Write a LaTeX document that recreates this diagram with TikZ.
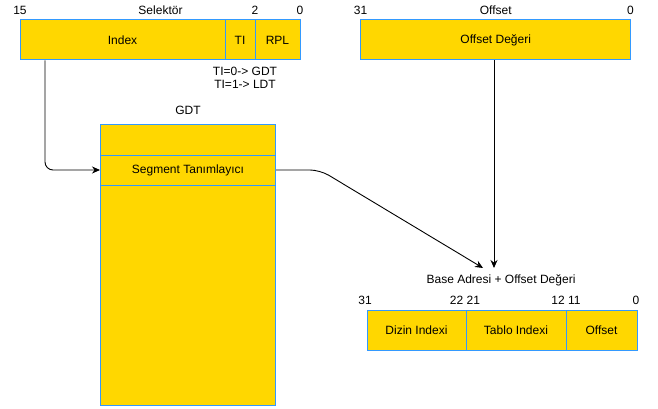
\documentclass[tikz,border=0pt]{standalone}
\usepackage{fontspec}
\setmainfont{Liberation Sans}
\usetikzlibrary{arrows.meta}
\definecolor{cellfill}{HTML}{FFD700}
\definecolor{celldraw}{HTML}{3399FF}
\begin{document}
\begin{tikzpicture}[x=1pt,y=-1pt,
  every node/.style={font=\fontsize{12}{14}\selectfont, inner sep=0pt},
  cell/.style={draw=celldraw, fill=cellfill, line width=1pt, rectangle, minimum height=40pt},
  lbl/.style={text=black},
  conn/.style={draw=black, line width=0.9pt, -{Stealth[length=8pt,width=7pt]}}]
\useasboundingbox (0,0) rectangle (658,409);
% Selector
\node[cell, minimum width=205pt] (index) at (122.5,40) {Index};
\node[cell, minimum width=30pt] (ti) at (240,40) {TI};
\node[cell, minimum width=45pt] (rpl) at (277.5,40) {RPL};
\node[lbl] (s15) at (20,10) {15};
\node[lbl] (sel) at (160.5,10) {Selektör};
\node[lbl] (s2) at (255,10) {2};
\node[lbl] (s0) at (300,10) {0};
\node[lbl] (tia) at (245,71) {TI=0-> GDT};
\node[lbl] (tib) at (245,84) {TI=1-> LDT};
% Offset
\node[cell, minimum width=270pt] (off) at (495.7,40) {Offset Değeri};
\node[lbl] (o31) at (360.5,10) {31};
\node[lbl] (otitle) at (495.7,10) {Offset};
\node[lbl] (o0) at (630.5,10) {0};
% GDT
\node[lbl] (gdtl) at (188,110) {GDT};
\node[cell, minimum width=175pt, minimum height=30pt] (g1) at (188,140) {};
\node[cell, minimum width=175pt, minimum height=30pt] (g2) at (188,170) {Segment Tanımlayıcı};
\node[cell, minimum width=175pt, minimum height=220pt] (g3) at (188,295) {};
% Linear address
\node[lbl] (base) at (501,280) {Base Adresi + Offset Değeri};
\node[lbl] (b31) at (365,300) {31};
\node[lbl] (b22) at (465,300) {22 21};
\node[lbl] (b12) at (566,300) {12 11};
\node[lbl] (b0) at (636,300) {0};
\node[cell, minimum width=99pt] (dizin) at (416.5,330) {Dizin Indexi};
\node[cell, minimum width=100pt] (tablo) at (516,330) {Tablo Indexi};
\node[cell, minimum width=71pt] (boff) at (601.5,330) {Offset};
% connectors
\coordinate (t1) at (494,268);
\coordinate (t2) at (483,268);
\draw[conn] (off.south -| t1) -- (t1);
\draw[conn, rounded corners=10pt] (g2.east) -- (320,170) -- (t2);
\draw[conn, rounded corners=8pt] (index.south -| 45,0) -- (45,170) -- (g2.west);
\end{tikzpicture}
\end{document}
